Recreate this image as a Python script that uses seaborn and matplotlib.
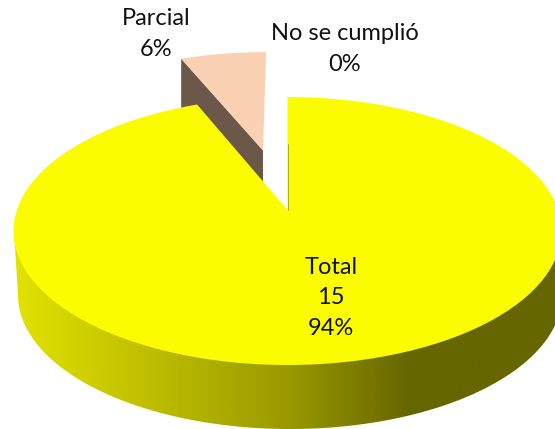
import numpy as np
import seaborn as sns
from matplotlib import pyplot as plt
from matplotlib.colors import LinearSegmentedColormap
from matplotlib.patches import Polygon
from matplotlib.transforms import Transform

categories = ["Total", "Parcial", "No se cumplió"]
values = [15, 1, 0]
percent_labels = ["94%", "6%", "0%"]
count_labels = ["15", None, None]
explode = [0, 0.5, 0]

top_colors = ["#fcfc00", "#fad1b2", "#ffffff"]
cut_color = "#6b5849"
side_stops = [(0.0, "#e2e200"), (0.5, "#999900"), (0.72, "#666600"), (1.0, "#666600")]


# maps the flat unit pie onto the tilted ellipse seen in the chart (pixels)
class TiltedPie(Transform):
    input_dims = 2
    output_dims = 2

    def __init__(self, dy=0, cx=287.5, cy=231, rx=274, ry=134, tilt=0.157):
        super().__init__()
        self.dy, self.cx, self.cy, self.rx, self.ry, self.tilt = dy, cx, cy, rx, ry, tilt

    def transform_non_affine(self, xy):
        xy = np.asarray(xy, dtype=float)
        b = self.tilt
        den = 1 + b * xy[:, 1]
        u = xy[:, 0] * np.sqrt(1 - b ** 2) / den
        v = (xy[:, 1] + b) / den
        return np.column_stack([self.cx + self.rx * u, self.cy - self.ry * v + self.dy])


sns.set_theme(style="white")
plt.rcParams["font.family"] = ["Lato", "DejaVu Sans"]

fig = plt.figure(figsize=(5.55, 4.29), dpi=100)
ax = fig.add_axes([0, 0, 1, 1])

wedges, _ = ax.pie(values, explode=explode, startangle=90, counterclock=False,
                   colors=top_colors, wedgeprops={"linewidth": 0})
ax.set_aspect("auto")

top = TiltedPie()
for i, w in enumerate(wedges):
    w.set_transform(top + ax.transData)
    w.set_zorder(4 if i == 0 else 3)

# gradient wall of the yellow slice
phi = np.radians(np.linspace(0, 180, 200))
wall = np.column_stack([290 - 272 * np.cos(phi), 295 + 134 * np.sin(phi)])
wall = np.vstack([[[14, 231]], wall, [[561, 231]]])
wall_patch = Polygon(wall, closed=True, transform=ax.transData, facecolor="none", edgecolor="none")
ax.add_patch(wall_patch)
cmap = LinearSegmentedColormap.from_list("side", side_stops)
im = ax.imshow(np.linspace(0, 1, 556)[None, :], cmap=cmap, aspect="auto",
               extent=(14, 564, 429, 0), zorder=1)
im.set_clip_path(wall_patch)

# cut face of the pulled out slice, the yellow top hides its lower part
pale = wedges[1]
t = np.radians(pale.theta2)
cx0, cy0 = pale.center
flat = np.array([[cx0 + np.cos(t), cy0 + np.sin(t)], [cx0, cy0]])
upper = top.transform_non_affine(flat)
lower = TiltedPie(dy=64).transform_non_affine(flat)
ax.add_patch(Polygon(np.vstack([upper, lower[::-1]]), closed=True, facecolor=cut_color,
                     edgecolor="none", zorder=2))

# thin edge on the right cut of the yellow slice
edge = top.transform_non_affine(np.array([[0, 0.55], [0, 0]]))
ax.plot(edge[:, 0], edge[:, 1], color="#a5a500", lw=0.6, zorder=5)

ax.set_xlim(0, 555)
ax.set_ylim(429, 0)
ax.axis("off")

label_at = [(331, 298), (156, 34), (345, 49)]
for name, n, pct, (x, y) in zip(categories, count_labels, percent_labels, label_at):
    lines = [name, n, pct] if n else [name, pct]
    ax.text(x, y, "\n".join(lines), ha="center", va="center", fontsize=17, color="#111111",
            linespacing=1.58, zorder=6)

fig.savefig("out.png", dpi=100)
